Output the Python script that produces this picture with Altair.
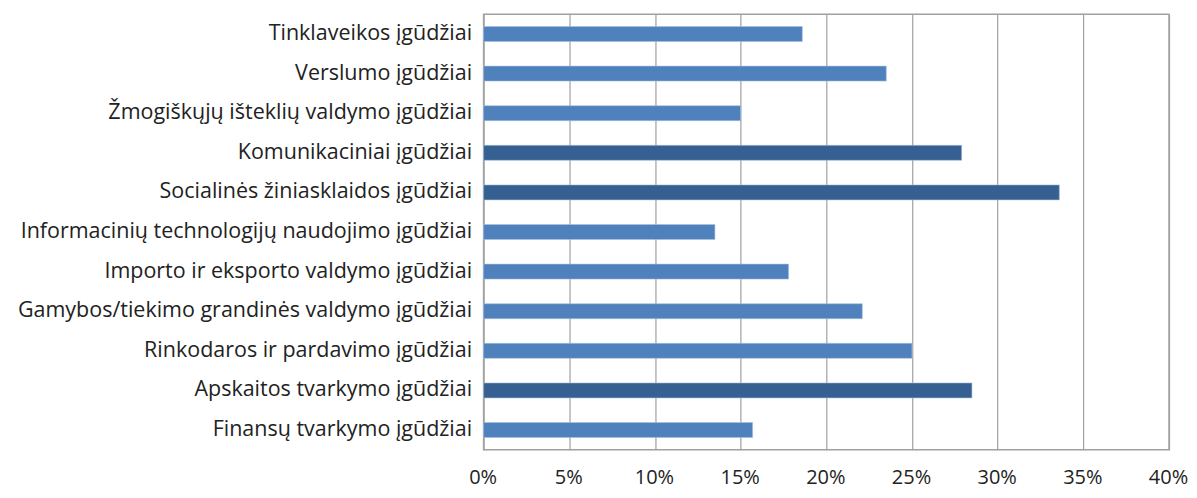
import altair as alt
import pandas as pd

categories = [
    "Tinklaveikos įgūdžiai",
    "Verslumo įgūdžiai",
    "Žmogiškųjų išteklių valdymo įgūdžiai",
    "Komunikaciniai įgūdžiai",
    "Socialinės žiniasklaidos įgūdžiai",
    "Informacinių technologijų naudojimo įgūdžiai",
    "Importo ir eksporto valdymo įgūdžiai",
    "Gamybos/tiekimo grandinės valdymo įgūdžiai",
    "Rinkodaros ir pardavimo įgūdžiai",
    "Apskaitos tvarkymo įgūdžiai",
    "Finansų tvarkymo įgūdžiai",
]
values = [0.186, 0.235, 0.150, 0.279, 0.336, 0.135, 0.178, 0.221, 0.250, 0.285, 0.157]
highlighted = ["Komunikaciniai įgūdžiai", "Socialinės žiniasklaidos įgūdžiai", "Apskaitos tvarkymo įgūdžiai"]

df = pd.DataFrame({
    "cat": categories,
    "val": values,
    "grp": ["dark" if c in highlighted else "light" for c in categories],
})

chart = alt.Chart(df).mark_bar(size=15, stroke="#a9c0dd", strokeWidth=0.6).encode(
    x=alt.X("val:Q", scale=alt.Scale(domain=[0, 0.4], nice=False),
            axis=alt.Axis(format=".0%", values=[0, 0.05, 0.1, 0.15, 0.2, 0.25, 0.3, 0.35, 0.4],
                          title=None, grid=True, gridColor="#a0a0a0", gridWidth=1.2,
                          domain=False, ticks=False, labelFont="Open Sans", labelFontSize=20,
                          labelColor="#222222", labelPadding=18, labelOffset=-1, labelFlush=False)),
    y=alt.Y("cat:N", sort=categories, scale=alt.Scale(paddingInner=0.62, paddingOuter=0.31),
            axis=alt.Axis(title=None, domain=False, ticks=False, labelFont="Open Sans", labelFontSize=21.5,
                          labelColor="#222222", labelPadding=12, labelLimit=600)),
    color=alt.Color("grp:N", scale=alt.Scale(domain=["light", "dark"], range=["#4f81bd", "#366092"]),
                    legend=None),
).properties(
    width=686, height=436,
    padding={"left": 476, "top": 6, "right": 20, "bottom": 40},
    autosize=alt.AutoSizeParams(type="none"),
).configure_view(stroke="#a0a0a0", strokeWidth=1.5)

chart.save("out.html", embed_options={"renderer": "svg", "actions": False})
